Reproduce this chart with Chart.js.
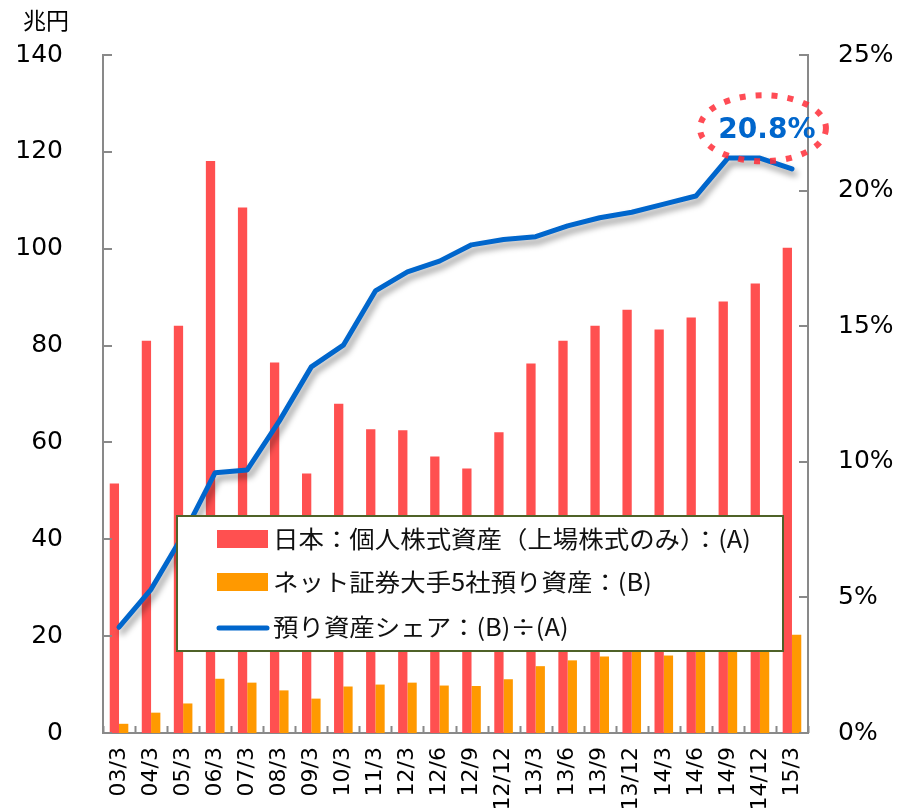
<!DOCTYPE html>
<html><head><meta charset="utf-8">
<script src="https://cdn.jsdelivr.net/npm/chart.js@4/dist/chart.umd.min.js"></script>
<style>html,body{margin:0;padding:0;overflow:hidden;background:#fff}#wrap{position:relative;width:915px;height:812px}</style>
</head><body><div id="wrap"><canvas id="c" width="915" height="812"></canvas></div>
<script>
const categories = ['03/3','04/3','05/3','06/3','07/3','08/3','09/3','10/3','11/3','12/3','12/6','12/9','12/12','13/3','13/6','13/9','13/12','14/3','14/6','14/9','14/12','15/3'];
const personalStockAssets = [51.5, 81.0, 84.1, 118.1, 108.5, 76.5, 53.6, 68.0, 62.7, 62.5, 57.1, 54.6, 62.1, 76.3, 81.0, 84.1, 87.4, 83.3, 85.8, 89.1, 92.8, 100.2];
const netBrokerAssets = [1.9, 4.2, 6.1, 11.2, 10.4, 8.8, 7.1, 9.6, 10.0, 10.4, 9.8, 9.7, 11.1, 13.8, 15.0, 15.8, 17.0, 16.0, 17.0, 18.8, 19.6, 20.3];
const assetShare = [3.9, 5.3, 7.3, 9.6, 9.7, 11.5, 13.5, 14.3, 16.3, 17.0, 17.4, 18.0, 18.2, 18.3, 18.7, 19.0, 19.2, 19.5, 19.8, 21.2, 21.2, 20.8];
const leftTicks = [0, 20, 40, 60, 80, 100, 120, 140];
const rightTicks = [0, 5, 10, 15, 20, 25];
const seriesNames = ['日本：個人株式資産（上場株式のみ）：(A)', 'ネット証券大手5社預り資産：(B)', '預り資産シェア：(B)÷(A)'];
const unitLabel = '兆円';
const highlightLabel = '20.8%';
const highlightCategory = '14/12';
const highlightLevel = 22.3;

const C_RED = '#FF5050', C_ORANGE = '#FF9900', C_BLUE = '#0066CC', C_AXIS = '#898989';

const shadowPlugin = {
  id: 'lineShadow',
  beforeDatasetDraw(chart, args) {
    if (chart.data.datasets[args.index].type === 'line') {
      const ctx = chart.ctx; ctx.save();
      ctx.shadowColor = 'rgba(0,0,0,0.4)'; ctx.shadowBlur = 6; ctx.shadowOffsetX = 3; ctx.shadowOffsetY = 5;
    }
  },
  afterDatasetDraw(chart, args) {
    if (chart.data.datasets[args.index].type === 'line') chart.ctx.restore();
  }
};

const decorPlugin = {
  id: 'decor',
  afterDraw(chart) {
    const ctx = chart.ctx, ca = chart.chartArea;
    const x = chart.scales.x, y = chart.scales.y, y1 = chart.scales.y1;
    ctx.save();
    // inward tick marks
    ctx.strokeStyle = C_AXIS; ctx.lineWidth = 2;
    ctx.beginPath();
    y.ticks.forEach(t => { const p = Math.round(y.getPixelForValue(t.value)); ctx.moveTo(ca.left, p); ctx.lineTo(ca.left + 9, p); });
    y1.ticks.forEach(t => { const p = Math.round(y1.getPixelForValue(t.value)); ctx.moveTo(ca.right - 9, p); ctx.lineTo(ca.right, p); });
    for (let i = 0; i <= categories.length; i++) {
      const p = Math.round(x.getPixelForValue(i - 0.5)) + 0.5;
      ctx.moveTo(p, ca.bottom); ctx.lineTo(p, ca.bottom - 7);
    }
    ctx.stroke();

    // unit label
    ctx.fillStyle = '#000';
    ctx.font = '23px "Noto Sans CJK JP"';
    ctx.textAlign = 'left'; ctx.textBaseline = 'middle';
    ctx.fillText(unitLabel, 23, 20);

    // highlight ellipse + label
    const cx = x.getPixelForValue(categories.indexOf(highlightCategory)) + 3;
    const cy = y1.getPixelForValue(highlightLevel);
    ctx.beginPath();
    ctx.ellipse(cx, cy, 63, 33, 0, 0, Math.PI * 2);
    ctx.setLineDash([6, 10]); ctx.lineWidth = 6;
    ctx.strokeStyle = 'rgba(255,45,55,0.85)';
    ctx.stroke();
    ctx.setLineDash([]);
    ctx.fillStyle = C_BLUE;
    ctx.font = 'bold 28px "DejaVu Sans"';
    ctx.textAlign = 'center';
    ctx.fillText(highlightLabel, cx + 4, cy + 2);

    // legend box
    const lx = 177, ly = 516, lw = 606, lh = 135;
    ctx.fillStyle = '#fff'; ctx.fillRect(lx, ly, lw, lh);
    ctx.strokeStyle = '#4F6228'; ctx.lineWidth = 2; ctx.strokeRect(lx, ly, lw, lh);
    const rows = [539, 582, 627];
    chart.data.datasets.forEach((ds, i) => {
      const ry = rows[i];
      if (ds.type === 'line') {
        ctx.beginPath(); ctx.strokeStyle = ds.borderColor; ctx.lineWidth = 5; ctx.lineCap = 'round';
        ctx.moveTo(219, ry + 1); ctx.lineTo(267, ry + 1); ctx.stroke();
      } else {
        ctx.fillStyle = ds.backgroundColor; ctx.fillRect(217, ry - 9, 51, 18);
      }
      ctx.save();
      ctx.translate(273, ry);
      ctx.scale(1.06, 1);
      ctx.fillStyle = '#111'; ctx.font = '24px "Noto Sans CJK JP"'; ctx.textAlign = 'left'; ctx.textBaseline = 'middle';
      ctx.fillText(ds.label, 0, 0);
      ctx.restore();
    });
    ctx.restore();
  }
};

new Chart(document.getElementById('c'), {
  data: {
    labels: categories,
    datasets: [
      { type: 'bar', label: seriesNames[0], data: personalStockAssets, backgroundColor: C_RED, yAxisID: 'y', order: 2, barPercentage: 1.0, categoryPercentage: 0.58 },
      { type: 'bar', label: seriesNames[1], data: netBrokerAssets, backgroundColor: C_ORANGE, yAxisID: 'y', order: 3, barPercentage: 1.0, categoryPercentage: 0.58 },
      { type: 'line', label: seriesNames[2], data: assetShare, borderColor: C_BLUE, borderWidth: 5, pointRadius: 0, tension: 0, yAxisID: 'y1', order: 1, borderJoinStyle: 'round', borderCapStyle: 'round' }
    ]
  },
  options: {
    responsive: false, animation: false, devicePixelRatio: 1,
    layout: { padding: { top: 54, left: 0, right: 0, bottom: 0 } },
    plugins: { legend: { display: false }, tooltip: { enabled: false } },
    scales: {
      x: {
        type: 'category', offset: true,
        grid: { display: false, drawTicks: false },
        border: { display: true, color: C_AXIS, width: 2 },
        ticks: { autoSkip: false, maxRotation: 90, minRotation: 90, padding: 14, color: '#000', font: { family: 'DejaVu Sans', size: 22 } },
        afterFit(s) { s.height = 79; }
      },
      y: {
        position: 'left', min: 0, max: 140,
        afterBuildTicks(s) { s.ticks = leftTicks.map(v => ({ value: v })); },
        grid: { display: false, drawTicks: false },
        border: { display: true, color: C_AXIS, width: 2 },
        ticks: { padding: 40, color: '#000', font: { family: 'DejaVu Sans', size: 25 } },
        afterFit(s) { s.width = 103; }
      },
      y1: {
        position: 'right', min: 0, max: 25,
        afterBuildTicks(s) { s.ticks = rightTicks.map(v => ({ value: v })); },
        grid: { display: false, drawTicks: false },
        border: { display: true, color: C_AXIS, width: 2 },
        ticks: { padding: 30, color: '#000', font: { family: 'DejaVu Sans', size: 25 }, callback: v => v + '%' },
        afterFit(s) { s.width = 107; }
      }
    }
  },
  plugins: [shadowPlugin, decorPlugin]
});
</script></body></html>
